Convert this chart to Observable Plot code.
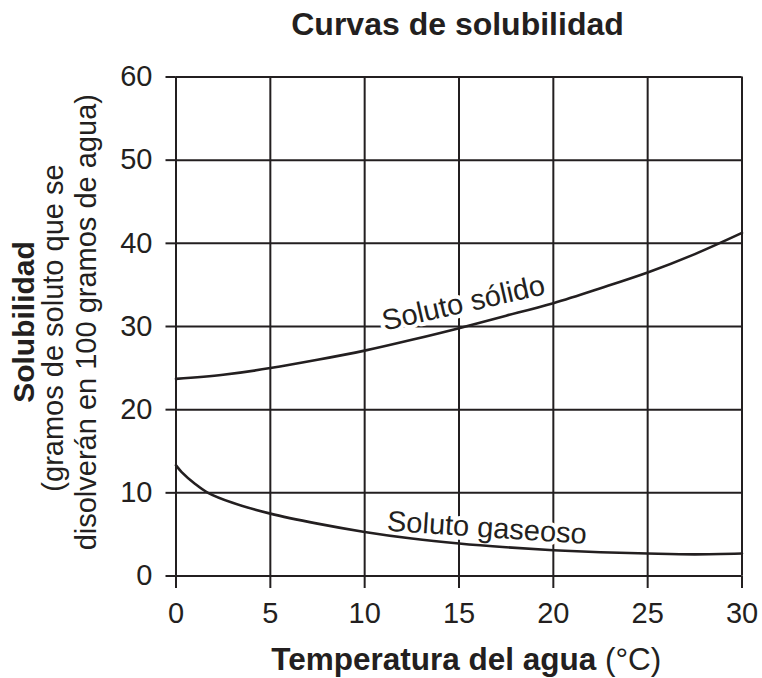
<!DOCTYPE html>
<html>
<head>
<meta charset="utf-8">
<script src="https://cdn.jsdelivr.net/npm/d3@7"></script>
<script src="https://cdn.jsdelivr.net/npm/@observablehq/plot@0.6"></script>
<style>
  html, body { margin: 0; padding: 0; background: #ffffff; }
  #chart svg { display: block; }
</style>
</head>
<body>
<div id="chart"></div>
<script>
// ---- Data ----
const solidTemp = [0, 2.5, 5, 7.5, 10, 12.5, 15, 17.5, 20, 22.5, 25, 27.5, 30];
const solidSolubility = [23.7, 24.2, 25.0, 26.0, 27.1, 28.4, 29.8, 31.3, 32.8, 34.6, 36.5, 38.7, 41.25];

const gasTemp = [0, 0.3, 1, 1.7, 3, 5, 7.5, 10, 12.5, 15, 17.5, 20, 22.5, 25, 27.5, 30];
const gasSolubility = [13.3, 12.5, 11.1, 10.0, 8.8, 7.5, 6.3, 5.3, 4.5, 3.9, 3.45, 3.1, 2.85, 2.7, 2.6, 2.7];

const curveLabels = ["Soluto sólido", "Soluto gaseoso"];
const curveLabelTemp = [15.24, 16.48];
const curveLabelSolubility = [32.8, 5.77];

const xTicks = [0, 5, 10, 15, 20, 25, 30];
const yTicks = [0, 10, 20, 30, 40, 50, 60];

const titleText = "Curvas de solubilidad";
const xLabelBold = "Temperatura del agua";
const xLabelUnit = " (°C)";
const yLabelLines = ["Solubilidad", "(gramos de soluto que se", "disolverán en 100 gramos de agua)"];

// ---- Chart ----
const ink = "#231f20";
const font = "'Liberation Sans', Arial, Helvetica, sans-serif";

const W = 762, H = 678;
const mL = 175.5, mR = 20.5, mT = 76.5, mB = 102.5;
const frameCX = mL + (W - mL - mR) / 2;
const frameCY = mT + (H - mT - mB) / 2;

const solidRows = solidTemp.map((t, i) => ({t, s: solidSolubility[i]}));
const gasRows = gasTemp.map((t, i) => ({t, s: gasSolubility[i]}));

const chart = Plot.plot({
  width: W,
  height: H,
  marginLeft: mL,
  marginRight: mR,
  marginTop: mT,
  marginBottom: mB,
  style: {fontFamily: font, background: "#ffffff", color: ink, overflow: "visible"},
  x: {domain: [0, 30]},
  y: {domain: [0, 60]},
  marks: [
    Plot.gridX(xTicks, {stroke: ink, strokeOpacity: 1, strokeWidth: 2}),
    Plot.gridY(yTicks, {stroke: ink, strokeOpacity: 1, strokeWidth: 2}),
    Plot.axisX(xTicks, {tickSize: 12.5, tickPadding: 14, fontSize: 29, strokeWidth: 2, label: null}),
    Plot.axisY(yTicks, {tickSize: 10, tickPadding: 13.5, fontSize: 29, strokeWidth: 2, label: null}),
    // curve labels with white halo (hides grid only)
    Plot.text([0], {
      x: [curveLabelTemp[0]], y: [curveLabelSolubility[0]], text: [curveLabels[0]],
      rotate: -12.8, fontSize: 29, fill: ink, stroke: "white", strokeWidth: 8
    }),
    Plot.text([0], {
      x: [curveLabelTemp[1]], y: [curveLabelSolubility[1]], text: [curveLabels[1]],
      rotate: 3.8, fontSize: 29, fill: ink, stroke: "white", strokeWidth: 8
    }),
    Plot.line(solidRows, {x: "t", y: "s", curve: "natural", stroke: ink, strokeWidth: 2.6}),
    Plot.line(gasRows, {x: "t", y: "s", curve: "catmull-rom", stroke: ink, strokeWidth: 2.6}),
    // title
    Plot.text([titleText], {
      frameAnchor: "top", lineAnchor: "bottom", dy: 34.3 - mT, dx: -1.5,
      fontSize: 32, fontWeight: "bold", fill: ink
    }),
    // x axis label (bold part; unit appended as tspan after render)
    Plot.text([xLabelBold], {
      frameAnchor: "bottom", lineAnchor: "bottom", textAnchor: "middle", dy: 669.5 - (H - mB), dx: 465.8 - frameCX,
      fontSize: 31.5, fontWeight: "bold", fill: ink
    }),
    // y axis label lines
    Plot.text([yLabelLines[0]], {
      frameAnchor: "left", lineAnchor: "bottom", textAnchor: "middle", rotate: -90,
      dx: 33.4 - mL, dy: 321.5 - frameCY, fontSize: 30, fontWeight: "bold", fill: ink
    }),
    Plot.text([yLabelLines[1]], {
      frameAnchor: "left", lineAnchor: "bottom", textAnchor: "middle", rotate: -90,
      dx: 62 - mL, dy: 327.5 - frameCY, fontSize: 29, fill: ink
    }),
    Plot.text([yLabelLines[2]], {
      frameAnchor: "left", lineAnchor: "bottom", textAnchor: "middle", rotate: -90,
      dx: 95.5 - mL, dy: 321.7 - frameCY, fontSize: 29, fill: ink
    })
  ]
});

// append the regular-weight unit to the bold x label
chart.querySelectorAll("text").forEach((t) => {
  if (t.textContent === xLabelBold) {
    const ts = document.createElementNS("http://www.w3.org/2000/svg", "tspan");
    ts.setAttribute("font-weight", "normal");
    ts.textContent = xLabelUnit;
    t.appendChild(ts);
  }
});

document.getElementById("chart").appendChild(chart);
</script>
</body>
</html>
